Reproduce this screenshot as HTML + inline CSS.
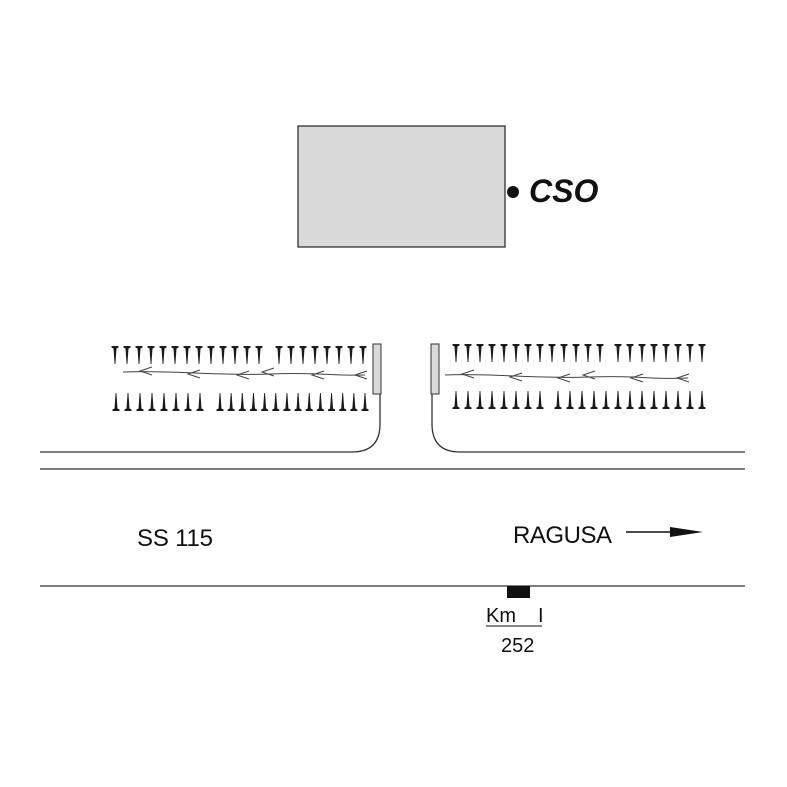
<!DOCTYPE html>
<html><head><meta charset="utf-8"><style>
html,body{margin:0;padding:0;background:#fff}
svg{display:block}
text{font-family:"Liberation Sans",Arial,sans-serif}
</style></head><body>
<svg id="s" width="787" height="787" viewBox="0 0 787 787" xmlns="http://www.w3.org/2000/svg">
<rect x="298" y="126" width="207" height="121" fill="#dadada" stroke="#222" stroke-width="1.2"/>
<circle cx="513" cy="192" r="6" fill="#111"/>
<text x="529" y="202" font-size="32" font-weight="bold" font-style="italic" fill="#111">CSO</text>
<g fill="none" stroke="#333" stroke-width="1.3">
<path d="M40 452 H352 Q380 452 380 424 V394"/>
<path d="M745 452 H460 Q432 452 432 424 V394"/>
<path d="M40 469 H745"/>
<path d="M40 586 H745"/>
</g>
<rect x="373" y="344" width="8" height="50" fill="#d9d9d9" stroke="#333" stroke-width="1"/>
<rect x="431" y="344" width="8" height="50" fill="#d9d9d9" stroke="#333" stroke-width="1"/>
<rect x="507" y="586" width="23" height="12" fill="#111"/>
<text x="137" y="546" font-size="24" fill="#111" textLength="76">SS 115</text>
<text x="513" y="543" font-size="24" fill="#111" textLength="99">RAGUSA</text>
<path d="M626 532 H672" stroke="#111" stroke-width="1.5"/>
<path d="M670 527 L703 532 L670 537 Z" fill="#111"/>
<text x="486" y="622" font-size="20" fill="#111">Km</text>
<text x="538" y="622" font-size="20" fill="#111">I</text>
<path d="M486 626 H542" stroke="#111" stroke-width="1"/>
<text x="501" y="652" font-size="20" fill="#111">252</text>
<g fill="none" stroke="#444" stroke-width="1">
<path d="M123 372 C170 370 220 376 270 374 S330 376 365 375"/>
<path d="M445 375 C490 373 540 379 590 377 S650 380 688 378"/>
</g>
<g id="g"></g>
</svg>
<script>
var g=document.getElementById('g'),h='';
function down(x,y){h+='<path d="M'+(x-3.5)+' '+y+' L'+(x+3.5)+' '+y+' L'+(x+3.5)+' '+(y+1.5)+' L'+(x+1.5)+' '+(y+2.5)+' L'+(x+0.4)+' '+(y+18)+' L'+(x-0.4)+' '+(y+18)+' L'+(x-1.5)+' '+(y+2.5)+' L'+(x-3.5)+' '+(y+1.5)+'Z" fill="#1a1a1a"/>';}
function up(x,y){h+='<path d="M'+(x-3.5)+' '+(y+18)+' L'+(x+3.5)+' '+(y+18)+' L'+(x+3.5)+' '+(y+16.5)+' L'+(x+1.5)+' '+(y+15.5)+' L'+(x+0.4)+' '+y+' L'+(x-0.4)+' '+y+' L'+(x-1.5)+' '+(y+15.5)+' L'+(x-3.5)+' '+(y+16.5)+'Z" fill="#1a1a1a"/>';}
function row(f,x0,x1,n,y){for(var i=0;i<n;i++)f(x0+(x1-x0)*i/(n-1),y);}
row(down,115,259,13,346);row(down,279,363,8,346);
row(up,116,200,8,393);row(up,220,365,14,393);
row(down,456,600,13,344);row(down,618,702,8,344);
row(up,456,540,8,391);row(up,558,702,13,391);
function arr(x,y){h+='<path d="M'+(x+12)+' '+(y-4)+' L'+x+' '+y+' L'+(x+12)+' '+(y+4)+'" fill="none" stroke="#444" stroke-width="1"/>';}
[[140,371],[188,374],[237,375],[262,372],[312,375],[355,375]].forEach(function(p){arr(p[0],p[1]);});
[[462,374],[510,377],[558,378],[583,375],[631,378],[677,378]].forEach(function(p){arr(p[0],p[1]);});
g.innerHTML=h;
</script>
</body></html>
